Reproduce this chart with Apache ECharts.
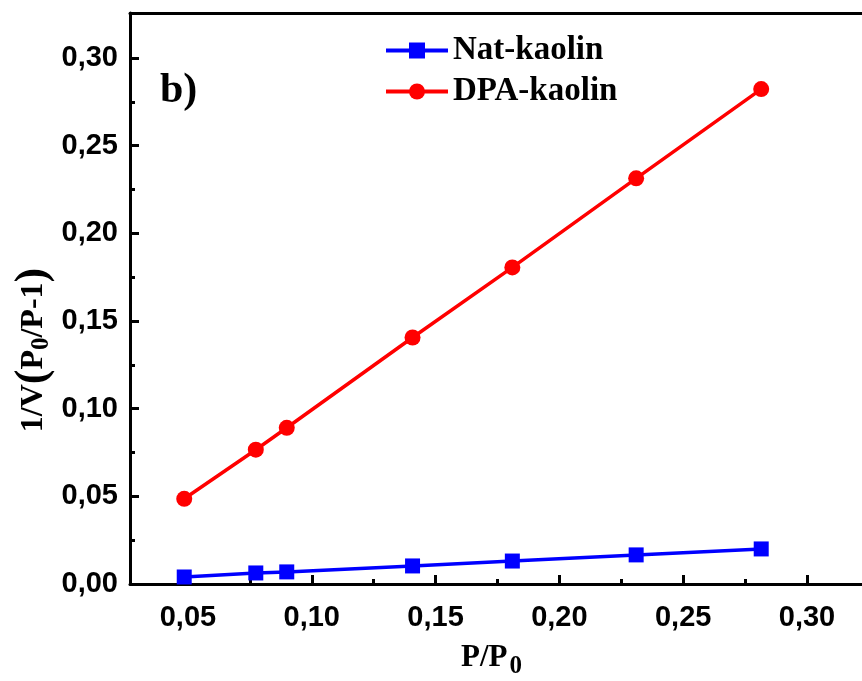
<!DOCTYPE html>
<html>
<head>
<meta charset="utf-8">
<script src="https://cdn.jsdelivr.net/npm/echarts@6/dist/echarts.min.js"></script>
<style>
  html, body { margin: 0; padding: 0; background: #fff; }
  #chart { width: 862px; height: 681px; }
</style>
</head>
<body>
<div id="chart"></div>
<script>
'use strict';

// P/P0 values
var pressure = [0.0485, 0.0774, 0.0899, 0.1407, 0.181, 0.231, 0.2815];
var natKaolin = [0.0040, 0.0063, 0.0069, 0.0103, 0.0131, 0.0166, 0.0200];
var dpaKaolin = [0.0486, 0.0766, 0.0891, 0.1406, 0.1806, 0.2314, 0.2823];

var xMajor = [0.05, 0.10, 0.15, 0.20, 0.25, 0.30];
var xMinor = [0.075, 0.125, 0.175, 0.225, 0.275];
var yMajor = [0.00, 0.05, 0.10, 0.15, 0.20, 0.25, 0.30];
var yMinor = [0.025, 0.075, 0.125, 0.175, 0.225, 0.275];

var X_MIN = 0.0266, X_MAX = 0.3222;
var Y_MIN = 0, Y_MAX = 0.3257;

function pairs(xs, ys) {
    return xs.map(function (x, i) { return [x, ys[i]]; });
}

function fmt(v) {
    return v.toFixed(2).replace('.', ',');
}

var serif = '"Liberation Serif", "Times New Roman", serif';
var sans = '"Liberation Sans", Arial, sans-serif';

var option = {
    animation: false,
    grid: { left: 130, right: 0, top: 13, bottom: 97, containLabel: false },
    legend: {
        orient: 'vertical',
        left: 379,
        top: 29,
        itemWidth: 62,
        itemHeight: 20,
        itemGap: 8,
        lineStyle: { width: 4 },
        textStyle: { fontFamily: serif, fontWeight: 'bold', fontSize: 33, color: '#000' },
        data: ['Nat-kaolin', 'DPA-kaolin']
    },
    xAxis: [
        {
            type: 'value', min: X_MIN, max: X_MAX, position: 'bottom',
            splitLine: { show: false },
            axisLine: { lineStyle: { color: '#000', width: 3 } },
            axisTick: { inside: true, length: 9, customValues: xMajor, lineStyle: { width: 3, color: '#000' } },
            axisLabel: {
                customValues: xMajor, margin: 19, formatter: fmt,
                fontFamily: sans, fontWeight: 'bold', fontSize: 29, color: '#000'
            }
        },
        {
            type: 'value', min: X_MIN, max: X_MAX, position: 'bottom',
            splitLine: { show: false },
            axisLine: { show: false },
            axisTick: { inside: true, length: 5, customValues: xMinor, lineStyle: { width: 3, color: '#000' } },
            axisLabel: { show: false }
        },
        {
            type: 'value', min: X_MIN, max: X_MAX, position: 'top',
            splitLine: { show: false },
            axisLine: { lineStyle: { color: '#000', width: 3 } },
            axisTick: { show: false },
            axisLabel: { show: false }
        }
    ],
    yAxis: [
        {
            type: 'value', min: Y_MIN, max: Y_MAX, position: 'left',
            splitLine: { show: false },
            axisLine: { lineStyle: { color: '#000', width: 3 } },
            axisTick: { inside: true, length: 9, customValues: yMajor, lineStyle: { width: 3, color: '#000' } },
            axisLabel: {
                customValues: yMajor, margin: 12, formatter: fmt,
                fontFamily: sans, fontWeight: 'bold', fontSize: 29, color: '#000'
            }
        },
        {
            type: 'value', min: Y_MIN, max: Y_MAX, position: 'left',
            splitLine: { show: false },
            axisLine: { show: false },
            axisTick: { inside: true, length: 5, customValues: yMinor, lineStyle: { width: 3, color: '#000' } },
            axisLabel: { show: false }
        }
    ],
    graphic: [
        {
            type: 'text', left: 160, top: 70,
            style: { text: 'b)', font: 'bold 42px ' + serif, fill: '#000' }
        },
        {
            type: 'text', x: 34, y: 350, rotation: Math.PI / 2,
            style: {
                text: '{t|1/V}{p|(}{t|P}{s|0}{t|/P-1}{p|)}',
                fill: '#000', align: 'center', verticalAlign: 'middle',
                rich: {
                    t: { font: 'bold 32px ' + serif, fill: '#000' },
                    s: { font: 'bold 25px ' + serif, fill: '#000', padding: [16, 0, 0, 0] },
                    p: { font: 'bold 44px ' + serif, fill: '#000' }
                }
            }
        },
        {
            type: 'text', left: 461, top: 642,
            style: {
                text: '{t|P/P}{s|0}',
                rich: {
                    t: { font: 'bold 31px ' + serif, fill: '#000' },
                    s: { font: 'bold 25px ' + serif, fill: '#000', padding: [18, 0, 0, 2] }
                }
            }
        }
    ],
    series: [
        {
            name: 'Nat-kaolin', type: 'line',
            xAxisIndex: 0, yAxisIndex: 0,
            data: pairs(pressure, natKaolin),
            symbol: 'rect', symbolSize: 15,
            lineStyle: { color: '#0000ff', width: 3.5 },
            itemStyle: { color: '#0000ff' }
        },
        {
            name: 'DPA-kaolin', type: 'line',
            xAxisIndex: 0, yAxisIndex: 0,
            data: pairs(pressure, dpaKaolin),
            symbol: 'circle', symbolSize: 16,
            lineStyle: { color: '#ff0000', width: 3.5 },
            itemStyle: { color: '#ff0000' }
        }
    ]
};

var myChart = echarts.init(document.getElementById('chart'));
myChart.setOption(option);
</script>
</body>
</html>
